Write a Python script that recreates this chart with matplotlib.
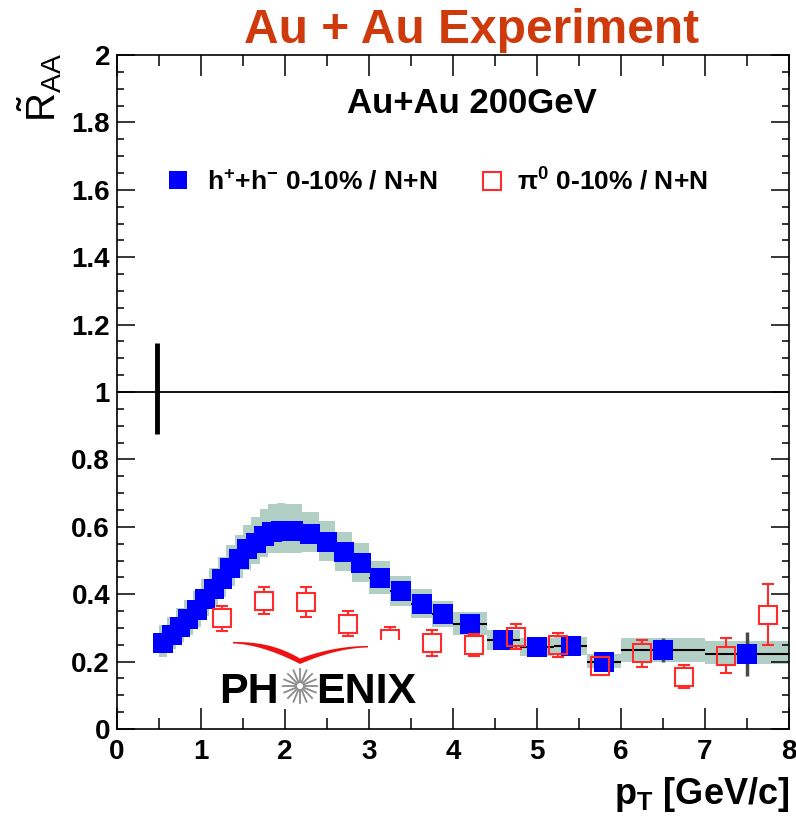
import numpy as np
import matplotlib
matplotlib.use("Agg")
import matplotlib.pyplot as plt
from matplotlib.ticker import MultipleLocator, FuncFormatter
from matplotlib.patches import Rectangle, Polygon
from matplotlib.lines import Line2D

# ---------------- data ----------------
h_pt = [0.55, 0.65, 0.75, 0.85, 0.95, 1.05, 1.15, 1.25, 1.35, 1.45, 1.55, 1.65,
        1.75, 1.85, 1.95, 2.1, 2.3, 2.5, 2.7, 2.9, 3.125, 3.375, 3.625, 3.875,
        4.2, 4.6, 5.0, 5.4, 5.8, 6.5, 7.5]
h_raa = [0.254, 0.278, 0.303, 0.326, 0.352, 0.385, 0.415, 0.446, 0.479, 0.505,
         0.533, 0.553, 0.573, 0.585, 0.587, 0.587, 0.579, 0.554, 0.524, 0.494,
         0.447, 0.409, 0.371, 0.341, 0.313, 0.264, 0.242, 0.246, 0.200, 0.234,
         0.223]
h_binw = [0.1] * 15 + [0.2] * 5 + [0.25] * 4 + [0.4] * 5 + [1.0, 1.0]
h_sys_hi = [0.055, 0.055, 0.056, 0.057, 0.058, 0.060, 0.062, 0.064, 0.067,
            0.070, 0.073, 0.076, 0.079, 0.082, 0.084, 0.082, 0.066, 0.062,
            0.062, 0.057, 0.051, 0.045, 0.044, 0.039, 0.035, 0.030, 0.028,
            0.027, 0.023, 0.036, 0.038]
h_sys_lo = [0.040, 0.042, 0.044, 0.046, 0.048, 0.050, 0.052, 0.054, 0.056,
            0.058, 0.060, 0.062, 0.063, 0.064, 0.065, 0.064, 0.055, 0.054,
            0.056, 0.057, 0.047, 0.043, 0.043, 0.039, 0.033, 0.029, 0.026,
            0.027, 0.020, 0.034, 0.031]
h_stat = [0.003] * 20 + [0.005, 0.005, 0.006, 0.006, 0.007, 0.008, 0.010,
                         0.012, 0.015, 0.035, 0.065]

pi0_pt = [1.25, 1.75, 2.25, 2.75, 3.25, 3.75, 4.25, 4.75, 5.25, 5.75, 6.25,
          6.75, 7.25, 7.75]
pi0_raa = [0.328, 0.381, 0.376, 0.312, 0.268, 0.256, 0.249, 0.274, 0.249,
           0.188, 0.225, 0.155, 0.218, 0.339]
pi0_err = [0.036, 0.041, 0.044, 0.037, 0.036, 0.038, 0.033, 0.038, 0.036,
           0.027, 0.040, 0.034, 0.053, 0.090]

norm_x = 0.48
norm_lo, norm_hi = 0.874, 1.145

x_ticks = [0, 1, 2, 3, 4, 5, 6, 7, 8]
y_ticks = [0, 0.2, 0.4, 0.6, 0.8, 1.0, 1.2, 1.4, 1.6, 1.8, 2.0]

# ---------------- style ----------------
plt.rcParams["font.family"] = ["Liberation Sans", "DejaVu Sans"]
plt.rcParams["font.weight"] = "bold"
plt.rcParams["mathtext.fontset"] = "custom"
plt.rcParams["mathtext.rm"] = "Liberation Sans:bold"
plt.rcParams["mathtext.bf"] = "Liberation Sans:bold"
plt.rcParams["mathtext.sf"] = "Liberation Sans:bold"
plt.rcParams["mathtext.it"] = "Liberation Serif"
plt.rcParams["mathtext.default"] = "rm"

BLUE = "#0000FF"
RED = "#FF2A2A"
BAND = "#B2CFC6"

W, H = 796, 816
fig = plt.figure(figsize=(W / 100, H / 100), dpi=100)
L, R, T, B = 117, 789, 55, 729
ax = fig.add_axes([L / W, 1 - B / H, (R - L) / W, (B - T) / H])
ax.set_xlim(0, 8)
ax.set_ylim(0, 2)

h_pt_a = np.array(h_pt)
h_raa_a = np.array(h_raa)
h_hi = np.array(h_sys_hi)
h_lo = np.array(h_sys_lo)
h_binw_a = np.array(h_binw)

# systematic band boxes
ax.bar(h_pt_a, h_hi + h_lo, bottom=h_raa_a - h_lo, width=h_binw_a,
       color=BAND, edgecolor="none", zorder=1)

# horizontal bin-width bars + stat errors
ax.errorbar(h_pt_a, h_raa_a, xerr=h_binw_a / 2, fmt="none", ecolor="black",
            elinewidth=1.5, capsize=0, zorder=2)
ax.errorbar(h_pt_a, h_raa_a, yerr=h_stat, fmt="none", ecolor="#4a4a4a",
            elinewidth=2.5, capsize=0, zorder=2)
ax.plot(h_pt_a, h_raa_a, ls="none", marker="s", ms=14, mfc=BLUE, mec=BLUE,
        mew=0, zorder=3)

# reference line and normalisation bar
ax.axhline(1.0, color="black", lw=1.3, zorder=2)
ax.plot([norm_x, norm_x], [norm_lo, norm_hi], color="black", lw=3.5,
        solid_capstyle="butt", zorder=3)

# pi0 open squares with error bars that stop at the marker edge
ms_pi = 13
half_px = ms_pi / 2 * 100 / 72
p0 = ax.transData.transform((0, 0))
half_dy = ax.transData.inverted().transform((p0[0], p0[1] + half_px))[1]
pi0_pt_a = np.array(pi0_pt)
pi0_raa_a = np.array(pi0_raa)
pi0_err_a = np.maximum(np.array(pi0_err), half_dy)
ax.vlines(pi0_pt_a, pi0_raa_a + half_dy, pi0_raa_a + pi0_err_a, color=RED,
          lw=1.5, zorder=4)
ax.vlines(pi0_pt_a, pi0_raa_a - pi0_err_a, pi0_raa_a - half_dy, color=RED,
          lw=1.5, zorder=4)
ax.plot(pi0_pt_a, pi0_raa_a + pi0_err_a, ls="none", marker="_", ms=8, mew=1.5,
        color=RED, zorder=4)
ax.plot(pi0_pt_a, pi0_raa_a - pi0_err_a, ls="none", marker="_", ms=8, mew=1.5,
        color=RED, zorder=4)
ax.plot(pi0_pt_a, pi0_raa_a, ls="none", marker="s", ms=ms_pi, mfc="none",
        mec=RED, mew=1.5, zorder=4)

# ---------------- axes ----------------
ax.xaxis.set_minor_locator(MultipleLocator(0.5))
ax.yaxis.set_minor_locator(MultipleLocator(0.05))
ax.set_xticks(x_ticks)
ax.set_yticks(y_ticks)
fmt = FuncFormatter(lambda v, p: ("%.1f" % v).rstrip("0").rstrip("."))
ax.yaxis.set_major_formatter(fmt)
ax.xaxis.set_major_formatter(fmt)
ax.tick_params(which="both", direction="in", top=True, right=True,
               width=1.1, color="black")
ax.tick_params(axis="x", which="major", length=15, labelsize=20, pad=7)
ax.tick_params(axis="x", which="minor", length=8)
ax.tick_params(axis="y", which="major", length=13, labelsize=20, pad=5)
ax.tick_params(axis="y", which="minor", length=5)
for lab in ax.get_xticklabels() + ax.get_yticklabels():
    lab.set_fontweight("bold")
for s in ax.spines.values():
    s.set_linewidth(1.2)

# ---------------- texts ----------------
fig.text(0.593, 1 - 43 / H, "Au + Au Experiment", ha="center", va="baseline",
         fontsize=34.5, color="#CF3A0C", fontweight="bold")
ax.text(4.23, 1.828, "Au+Au 200GeV", ha="center", va="baseline", fontsize=25,
        fontweight="bold")

fig.text(40 / W, 1 - 53 / H, r"$\tilde{\mathregular{R}}_{\mathregular{AA}}$",
         rotation=90, ha="center", va="top", fontsize=29, fontweight="normal")
fig.text(R / W, 1 - 804 / H, r"p$_{\mathregular{T}}$ [GeV/c]", ha="right",
         va="baseline", fontsize=26, fontweight="bold")

# legend
ax.plot([0.0915], [0.8145], transform=ax.transAxes, ls="none", marker="s",
        ms=13, mfc=BLUE, mec=BLUE, mew=0, clip_on=False)
ax.text(0.1335, 0.80, r"h$^{+}$+h$^{-}$ 0-10% / N+N", transform=ax.transAxes,
        ha="left", va="baseline", fontsize=19, fontweight="bold")
ax.plot([0.558], [0.8135], transform=ax.transAxes, ls="none", marker="s",
        ms=13, mfc="none", mec=RED, mew=1.5, clip_on=False)
ax.text(0.5948, 0.80, r"$\pi^{0}$ 0-10% / N+N", transform=ax.transAxes,
        ha="left", va="baseline", fontsize=19, fontweight="bold")

# ---------------- PHENIX logo ----------------
def fx(px):
    return px / W


def fy(py):
    return 1 - py / H


fig.patches.append(Rectangle((fx(214), fy(709)), fx(415) - fx(214),
                             fy(640) - fy(709), transform=fig.transFigure,
                             facecolor="white", edgecolor="none", zorder=5))
# red swoosh (one closed outline with a pointed dip in the middle)
t = np.linspace(0, 1, 50)
up_l = list(zip(233 + 67 * t, 642 + 16.5 * t ** 2.4))
up_r = list(zip(300 + 68 * t, 658.5 - 12.5 * (1 - (1 - t) ** 2)))
lo_r = list(zip(368 - 68 * t, 647.5 + 16.5 * t ** 1.8))
lo_l = list(zip(300 - 67 * t, 664 - 20.5 * (1 - (1 - t) ** 1.7)))
outline = up_l + up_r + lo_r + lo_l
fig.patches.append(Polygon([(fx(a), fy(b)) for a, b in outline], closed=True,
                           transform=fig.transFigure, facecolor="#F01010",
                           edgecolor="none", zorder=6))
fig.text(fx(219), fy(703), "PH", ha="left", va="baseline", fontsize=31,
         fontweight="bold", color="black", zorder=7)
fig.text(fx(316), fy(703), "ENIX", ha="left", va="baseline", fontsize=31,
         fontweight="bold", color="black", zorder=7)
cx, cy = 300, 686
for k in range(16):
    a = 2 * np.pi * k / 16
    fig.lines.append(Line2D([fx(cx + 4 * np.cos(a)), fx(cx + 17 * np.cos(a))],
                            [fy(cy + 4 * np.sin(a)), fy(cy + 17 * np.sin(a))],
                            transform=fig.transFigure, color="#8a8a8a",
                            lw=1.3, zorder=7))

fig.savefig("out.png", dpi=100)
